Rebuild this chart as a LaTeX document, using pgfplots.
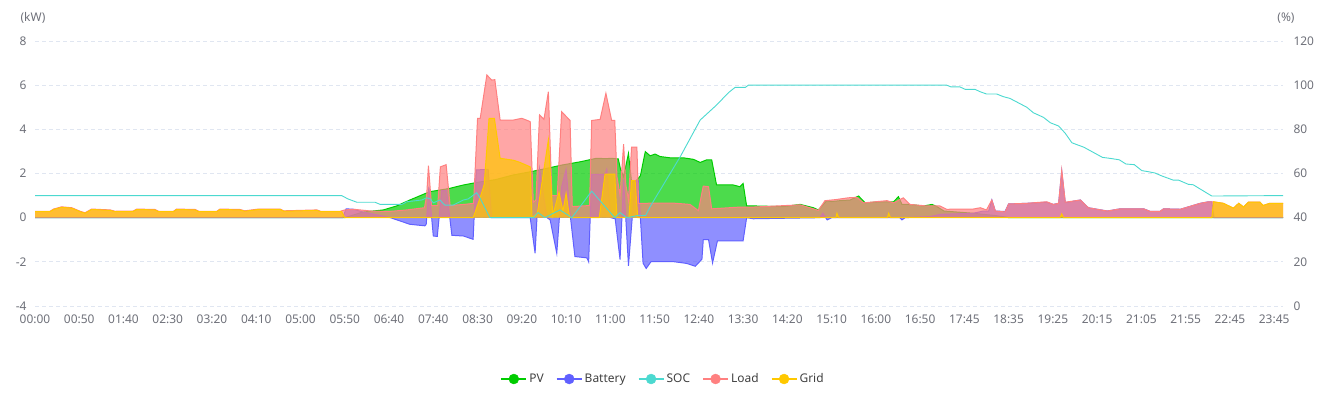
\documentclass[border=0pt]{standalone}
\usepackage{pgfplots}
\pgfplotsset{compat=1.18}
\usepackage{pgfplotstable}
\usepackage{fontspec}
\setmainfont{Noto Sans}
\definecolor{pvc}{RGB}{0,204,0}
\definecolor{batc}{RGB}{96,96,255}
\definecolor{socc}{RGB}{76,217,208}
\definecolor{loadc}{RGB}{255,128,128}
\definecolor{gridc}{RGB}{255,200,0}
\definecolor{axtext}{RGB}{110,112,121}
\definecolor{gridline}{RGB}{224,230,241}

\pgfplotstableread{
x y
0 0
70 0
74 0.25
78.7 0.35
81.7 0.53
84.7 0.8
87.8 1.06
89.3 1.18
91.5 1.25
93.8 1.33
96.8 1.48
100 1.6
104 1.72
108 1.93
112 2.08
115.6 2.23
119 2.38
123.2 2.53
126.9 2.69
129.2 2.67
130 2.69
131.8 2.66
132.3 2.2
133 1.86
134.1 2.91
134.8 1.6
136 1.7
136.8 1.9
137.9 2.99
139 2.8
140.1 2.88
141.2 2.77
143.5 2.71
146.5 2.71
148.8 2.64
150.3 2.5
151.8 2.62
152.9 2.62
154 1.48
157.8 1.48
159.3 1.4
160 1.55
160.8 0.53
162.7 0.53
169.1 0.5
172.9 0.6
175.9 0.45
177 0.35
178.9 0.77
180 0.73
181.9 0.77
184.2 0.8
186.1 0.98
187.6 0.67
191 0.72
194 0.72
195.1 0.95
195.9 0.6
197.4 0.6
200.8 0.53
202.7 0.6
203.8 0.5
205.4 0.3
212 0.2
214.3 0.15
216.8 0.1
219.6 0.02
220 0
282 0
}\pvdata

\pgfplotstableread{
x y
0 0
69.5 0
70.3 0.4
72 0.38
74.2 0.25
78 0.1
80.3 0
82.5 -0.15
84.7 -0.3
88.1 -0.37
88.4 -0.3
89 1.4
90 -0.83
90.9 -0.85
91.9 1.22
93 1.22
94.2 -0.8
96.8 -0.83
99 -0.98
99.7 2.16
102.4 2.19
103.2 0
111.9 0
113 -1.61
114 2.19
115.7 0
116.4 -0.1
117.9 -1.61
119 1.4
120 2.19
121 0
122 -1.76
124.7 -1.82
125.1 -2.0
125.8 1.96
128.8 1.96
129.2 2.19
130.1 0
131.1 -0.05
132.2 -1.9
133 1.73
134.1 -2.18
135.6 1.68
136.3 1.68
137.4 -2.06
138.1 -2.3
139.2 -1.99
144.2 -1.99
147.2 -2.07
149.2 -2.2
150.7 -1.88
151 -1.0
152.2 -1.0
153.1 -2.05
154.2 -1.05
160 -1.05
160.8 0
162.3 -0.05
177.4 0
178 0.2
179 -0.1
180 0
195.4 0
195.9 -0.1
196.6 0
202.3 0.05
204.5 0.15
212 0.2
214.3 0.3
215.5 0.3
216.2 0.8
217 0.3
219.2 0.28
220 0.62
224.1 0.65
228.6 0.7
230.1 0.6
231.3 0.65
232 2.1
232.8 0.68
236.2 0.8
238 0.45
242.3 0.3
245.2 0.4
250.5 0.4
252 0.28
254.2 0.28
255 0.4
258.8 0.38
263.3 0.65
265.2 0.72
265.9 0.72
266.4 0
282 0
}\batdata

\pgfplotstableread{
x y
0 0.29
3.4 0.29
4.2 0.39
6 0.49
8.3 0.45
10.2 0.29
11.3 0.22
12.8 0.39
17 0.35
18.1 0.29
22.2 0.3
23 0.39
27.1 0.37
27.9 0.29
31.3 0.29
32 0.39
36.2 0.37
37 0.29
41.1 0.29
41.8 0.39
46.3 0.37
47.4 0.31
50.5 0.39
55.4 0.39
56.2 0.31
63.7 0.35
64.5 0.29
69 0.29
70 0.35
72 0.38
76 0.3
80 0.28
84 0.35
88 0.45
88.5 1.0
88.9 2.35
89.6 0.55
91 0.55
91.6 2.3
92.9 2.4
93.8 0.55
97 0.6
99.1 0.65
100 4.5
100.6 4.5
102.1 6.46
103.2 6.23
103.9 6.25
105.1 4.42
108.1 4.42
110 4.5
111.9 4.35
112.6 0.7
113.2 0.8
114 4.65
115 4.45
116 5.7
116.8 1.0
118 1.0
119 4.8
120.9 4.4
121.4 0.5
125.3 0.55
125.8 4.4
127.7 4.45
129 5.63
130.3 4.4
131 4.4
131.5 1.86
132.2 1.0
133 3.33
133.5 1.5
134.1 0.8
134.8 3.19
136 3.19
136.4 0.65
144.2 0.66
148 0.6
149.9 0.32
151 1.43
152.2 1.4
152.9 0.4
159.3 0.48
162.3 0.48
172.9 0.58
177 0.33
178.5 0.77
181 0.82
183.8 0.9
185.7 0.92
187.2 0.67
192.5 0.77
194 0.67
196.2 0.9
197.7 0.6
201.5 0.53
204.5 0.53
206 0.38
212 0.39
213.6 0.45
215 0.35
216.2 0.8
217 0.3
219.2 0.26
220 0.62
224.1 0.65
228.6 0.72
230.1 0.6
231.3 0.65
232 2.16
232.8 0.7
236.2 0.8
238 0.45
242.3 0.3
245.2 0.4
250.5 0.4
252 0.28
254.2 0.28
255 0.4
258.8 0.38
263.3 0.65
265.2 0.72
266.1 0.72
268.5 0.65
270.8 0.43
272 0.65
273.1 0.48
274.2 0.7
276.8 0.7
277.5 0.55
279 0.65
282 0.65
}\loaddata

\pgfplotstableread{
x y
0 0.27
3.4 0.27
4.2 0.37
6 0.47
8.3 0.43
10.2 0.27
11.3 0.2
12.8 0.37
17 0.33
18.1 0.27
22.2 0.28
23 0.37
27.1 0.35
27.9 0.27
31.3 0.27
32 0.37
36.2 0.35
37 0.27
41.1 0.27
41.8 0.37
46.3 0.35
47.4 0.29
50.5 0.37
55.4 0.37
56.2 0.29
63.7 0.33
64.5 0.27
69.3 0.27
70 0
99 0
100.5 0.85
101.5 1.5
102.6 4.5
103.8 4.5
105.1 2.69
108.1 2.6
109.6 2.5
111.9 2.3
112.3 0
113.5 0.2
116 3.52
117 0.1
118.4 1.15
119.3 0.3
120 1.1
120.8 0
127.5 0
128.8 1.97
131 1.97
131.5 0
134.2 0
134.8 1.68
135.6 1.68
136.2 0
181 0
181.2 0.2
181.6 0
192.6 0
192.9 0.2
193.3 0
231.6 0
232 0.17
232.4 0
265.9 0
266.3 0.72
268.5 0.65
270.8 0.43
272 0.65
273.1 0.48
274.2 0.7
276.8 0.7
277.5 0.55
279 0.65
282 0.65
}\griddata

\pgfplotstableread{
x y
0 50
69.3 50
70.7 48.5
72.7 47
76.8 47
78 46
82.9 46
84 47.2
87.4 48
88.5 49
89.3 48.5
90 46.7
91.5 48
92.6 45.7
94.5 45.7
96.8 48
97.9 48.5
99.8 51.3
100.6 48.8
102.8 40
112.6 40
113.7 42.3
115.2 40
118.6 43.5
121.3 40
125.8 52
131 40
132.2 42.3
133.7 40
136.3 41
138 41
139 45
145.8 67.6
150.3 84.2
154 91
156.7 96.6
158.2 99
160.5 99
161.2 100
206 100
207 99.2
209 99.2
210.2 98.1
212.4 98.1
213.6 97
215 96
217.3 96
218.8 94.8
220.3 94
224.1 90
225.6 87.5
227.9 85.4
229.4 83
231.3 81.5
232.8 78.2
234.3 73.9
237 71.9
241.2 67.3
243.1 66.8
245 66.2
246.5 64.3
248.4 64
250.1 61.3
251.6 60.8
253.1 60.2
254.6 58.9
257.2 57
258.4 57
260.6 55.1
261.7 54.9
265.9 49.8
282 50
}\socdata

\begin{document}
\begin{tikzpicture}[font=\fontsize{12}{14}\selectfont]
\useasboundingbox (0,0) rectangle (1330bp,407bp);
\begin{axis}[
  scale only axis, width=1248bp, height=265bp,
  at={(35bp,101bp)}, anchor=south west,
  xmin=0, xmax=282, ymin=-4, ymax=8,
  xtick={0,10,...,280},
  xticklabels={00:00,00:50,01:40,02:30,03:20,04:10,05:00,05:50,06:40,07:40,08:30,09:20,10:10,11:00,11:50,12:40,13:30,14:20,15:10,16:00,16:50,17:45,18:35,19:25,20:15,21:05,21:55,22:45,23:45},
  ytick={-4,-2,...,8},
  /pgf/number format/assume math mode=true,
  axis line style={draw=none},
  major tick length=0pt,
  ymajorgrids,
  grid style={gridline, dash pattern=on 4bp off 3bp, line width=0.8bp},
  tick label style={text=axtext, font=\fontsize{12}{14}\selectfont},
  xticklabel style={yshift=-5bp},
  yticklabel style={xshift=-5bp},
  ylabel={(kW)},
  every axis y label/.style={at={(axis description cs:0,1)}, anchor=center, xshift=-2bp, yshift=23bp, text=axtext},
  clip=true,
  legend columns=5,
  legend style={at={(0.5,-0.2755)}, anchor=center, draw=none, fill=none,
    font=\fontsize{12}{14}\selectfont, text=black!75, xshift=4bp,
    /tikz/every even column/.append style={column sep=10bp}},
  legend cell align=left,
  legend image code/.code={\draw[#1, line width=2bp] (0bp,0bp) -- (25bp,0bp); \fill[#1] (12.5bp,0bp) circle (5bp);},
]
\addplot[forget plot, draw=none, fill=pvc, fill opacity=0.7] table {\pvdata} \closedcycle;
\addplot[forget plot, pvc, line width=1bp] table {\pvdata};
\addplot[forget plot, draw=none, fill=batc, fill opacity=0.7] table {\batdata} \closedcycle;
\addplot[forget plot, batc, line width=1bp] table {\batdata};
\addplot[forget plot, draw=none, fill=loadc, fill opacity=0.7] table {\loaddata} \closedcycle;
\addplot[forget plot, loadc, line width=1bp] table {\loaddata};
\addplot[forget plot, draw=none, fill=gridc, fill opacity=0.7] table {\griddata} \closedcycle;
\addplot[forget plot, gridc, line width=1bp] table {\griddata};
\addlegendimage{pvc}\addlegendentry{PV}
\addlegendimage{batc}\addlegendentry{Battery}
\addlegendimage{socc}\addlegendentry{SOC}
\addlegendimage{loadc}\addlegendentry{Load}
\addlegendimage{gridc}\addlegendentry{Grid}
\end{axis}
\begin{axis}[
  scale only axis, width=1248bp, height=265bp,
  at={(35bp,101bp)}, anchor=south west,
  xmin=0, xmax=282, ymin=0, ymax=120,
  axis x line=none, axis y line*=right,
  ytick={0,20,...,120},
  /pgf/number format/assume math mode=true,
  axis line style={draw=none},
  major tick length=0pt,
  tick label style={text=axtext, font=\fontsize{12}{14}\selectfont},
  yticklabel style={anchor=west, xshift=7bp},
  ylabel={(\%)},
  every axis y label/.style={at={(axis description cs:1,1)}, anchor=center, xshift=3bp, yshift=23bp, text=axtext},
]
\addplot[socc, line width=0.9bp] table {\socdata};
\end{axis}
\end{tikzpicture}
\end{document}
